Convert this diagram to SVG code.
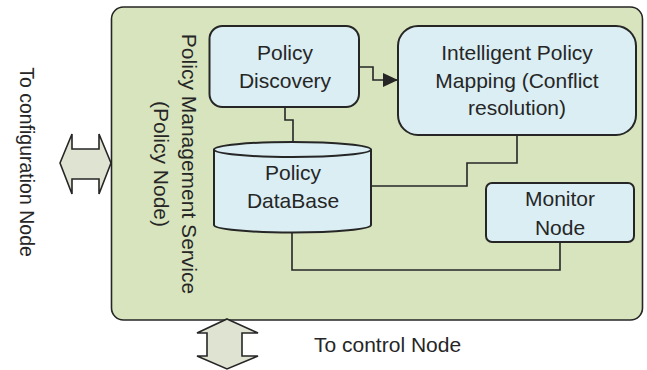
<svg xmlns="http://www.w3.org/2000/svg" width="647" height="370" viewBox="0 0 647 370">
<defs>
<style>
.t{font-family:"Liberation Sans",Arial,sans-serif;font-size:21px;fill:#262626;text-anchor:middle}
.node{fill:#daeef3;stroke:#262626;stroke-width:2}
.wire{fill:none;stroke:#262626;stroke-width:1.6}
.big{fill:#dfe3d1;stroke:#262626;stroke-width:1.6;stroke-linejoin:miter}
</style>
<marker id="ah" markerWidth="15" markerHeight="14" refX="14" refY="7" orient="auto" markerUnits="userSpaceOnUse">
<path d="M0,0 L15,7 L0,14 Z" fill="#262626"/>
</marker>
</defs>
<rect width="647" height="370" fill="#ffffff"/>
<g id="service">
<rect x="111.5" y="7" width="531" height="313" rx="12" fill="#d7e4bd" stroke="#262626" stroke-width="1.6"/>
<text class="t" transform="translate(182,164) rotate(90)">Policy Management Service</text>
<text class="t" transform="translate(154,164) rotate(90)">(Policy Node)</text>
</g>
<g id="config-arrow">
<polygon class="big" points="60,163 72,134 72,149 99,149 99,134 111,163 99,194 99,179 72,179 72,194"/>
<text class="t" style="font-size:19.5px" transform="translate(20,162) rotate(90)">To configuration Node</text>
</g>
<g id="control-arrow">
<polygon class="big" points="227,319 258,333 242,333 242,356 258,356 227,369 197,356 207,356 207,333 197,333"/>
<text class="t" style="text-anchor:start" x="314" y="352">To control Node</text>
</g>
<g id="connectors">
<path class="wire" d="M359,67 H373 V80 H397" marker-end="url(#ah)"/>
<path class="wire" d="M285,107 V120 H293 V142"/>
<path class="wire" d="M517,135 V163 H467 V186 H371"/>
<path class="wire" d="M292,232 V270 H560 V242"/>
</g>
<g id="policy-discovery">
<rect class="node" x="209.5" y="26" width="149.5" height="81" rx="13"/>
<text class="t" x="285" y="60">Policy</text>
<text class="t" x="285" y="88">Discovery</text>
</g>
<g id="policy-mapping">
<rect class="node" x="398" y="26" width="238" height="109" rx="20"/>
<text class="t" x="517" y="60">Intelligent Policy</text>
<text class="t" x="517" y="88">Mapping (Conflict</text>
<text class="t" x="517" y="115">resolution)</text>
</g>
<g id="policy-database">
<path class="node" d="M214,149.5 V225 A78.5,7.5 0 0 0 371,225 V149.5 A78.5,7.5 0 0 0 214,149.5 Z"/>
<path class="node" style="fill:none" d="M214,149.5 A78.5,7.5 0 0 0 371,149.5"/>
<text class="t" x="293" y="180">Policy</text>
<text class="t" x="293" y="208">DataBase</text>
</g>
<g id="monitor-node">
<rect class="node" x="486" y="183" width="148" height="59" rx="6"/>
<text class="t" x="560" y="206">Monitor</text>
<text class="t" x="560" y="235">Node</text>
</g>
</svg>
